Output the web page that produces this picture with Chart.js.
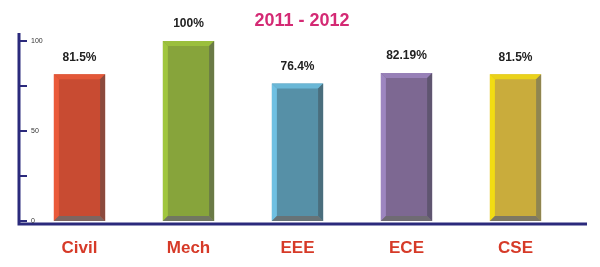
<!DOCTYPE html>
<html>
<head>
<meta charset="utf-8">
<script src="https://cdn.jsdelivr.net/npm/chart.js@4.4.1/dist/chart.umd.min.js"></script>
<style>
  html, body { margin: 0; padding: 0; background: #ffffff; }
  #myChart { display: block; }
</style>
</head>
<body>
<canvas id="myChart" width="600" height="267"></canvas>
<script>
// chart data
const title = '2011 - 2012';
const branches = ['Civil', 'Mech', 'EEE', 'ECE', 'CSE'];
const passPercent = [81.5, 100, 76.4, 82.19, 81.5];
const valueLabels = ['81.5%', '100%', '76.4%', '82.19%', '81.5%'];
const yTickValues = [0, 25, 50, 75, 100];
const yTickLabels = ['0', '', '50', '', '100'];

// bar colours: face, light edge, dark edge
const faceColors = ['#c84b32', '#87a43b', '#5690a7', '#7d6892', '#c9ac3c'];
const lightColors = ['#ea5a3a', '#a0c63e', '#6fc0e2', '#9d86c0', '#f2dc12'];
const darkColors = ['#8c4a3d', '#6a7a46', '#4a6e7d', '#5f5570', '#8f8550'];

const navy = '#2b2a7c';

const bevelPlugin = {
    id: 'bevel',
    afterDatasetsDraw(chart) {
        const ctx = chart.ctx;
        const meta = chart.getDatasetMeta(0);
        meta.data.forEach((bar, i) => {
            const w = bar.width;
            const l = bar.x - w / 2, r = bar.x + w / 2;
            const t = bar.y, b = bar.base;
            const e = 5;
            ctx.save();
            // top
            ctx.fillStyle = lightColors[i];
            ctx.globalAlpha = 0.8;
            ctx.beginPath();
            ctx.moveTo(l, t); ctx.lineTo(r, t); ctx.lineTo(r - e, t + e); ctx.lineTo(l + e, t + e);
            ctx.closePath(); ctx.fill();
            // left
            ctx.globalAlpha = 1;
            ctx.beginPath();
            ctx.moveTo(l, t); ctx.lineTo(l + e, t + e); ctx.lineTo(l + e, b - e); ctx.lineTo(l, b);
            ctx.closePath(); ctx.fill();
            // right
            ctx.fillStyle = darkColors[i];
            ctx.beginPath();
            ctx.moveTo(r, t); ctx.lineTo(r - e, t + e); ctx.lineTo(r - e, b - e); ctx.lineTo(r, b);
            ctx.closePath(); ctx.fill();
            // bottom
            ctx.globalAlpha = 0.8;
            ctx.fillStyle = '#6b6b6b';
            ctx.beginPath();
            ctx.moveTo(l, b); ctx.lineTo(l + e, b - e); ctx.lineTo(r - e, b - e); ctx.lineTo(r, b);
            ctx.closePath(); ctx.fill();
            ctx.restore();
        });
    },
    afterDraw(chart) {
        const ctx = chart.ctx;
        const xs = chart.scales.x, ys = chart.scales.y;
        const area = chart.chartArea;
        const axisX = area.left - 6;
        ctx.save();
        // title
        ctx.fillStyle = '#d42a74';
        ctx.font = 'bold 18px "Liberation Sans", Arial, sans-serif';
        ctx.textAlign = 'center';
        ctx.textBaseline = 'middle';
        ctx.fillText(title, 302, 21);

        // axes
        ctx.strokeStyle = navy;
        ctx.lineWidth = 3;
        ctx.beginPath();
        ctx.moveTo(axisX, 33);
        ctx.lineTo(axisX, area.bottom + 3);
        ctx.lineTo(587, area.bottom + 3);
        ctx.stroke();

        // y ticks (pointing inward)
        ctx.lineWidth = 2;
        ctx.fillStyle = '#333333';
        ctx.font = '7px "Liberation Sans", Arial, sans-serif';
        ctx.textAlign = 'left';
        yTickValues.forEach((v, i) => {
            const py = ys.getPixelForValue(v);
            ctx.beginPath();
            ctx.moveTo(axisX + 1, py);
            ctx.lineTo(axisX + 8, py);
            ctx.stroke();
            if (yTickLabels[i]) ctx.fillText(yTickLabels[i], axisX + 12, py);
        });

        // category labels
        ctx.fillStyle = '#d63a28';
        ctx.font = 'bold 17px "Liberation Sans", Arial, sans-serif';
        ctx.textAlign = 'center';
        branches.forEach((name, i) => {
            ctx.fillText(name, xs.getPixelForValue(i), 248);
        });

        // value labels
        ctx.fillStyle = '#222222';
        ctx.font = 'bold 12px "Liberation Sans", Arial, sans-serif';
        const meta = chart.getDatasetMeta(0);
        meta.data.forEach((bar, i) => {
            ctx.fillText(valueLabels[i], bar.x, bar.y - 17);
        });
        ctx.restore();
    }
};

const ctx = document.getElementById('myChart');
new Chart(ctx, {
    type: 'bar',
    data: {
        labels: branches,
        datasets: [{
            label: title,
            data: passPercent,
            backgroundColor: faceColors,
            borderWidth: 0,
            categoryPercentage: 1,
            barPercentage: 0.47
        }]
    },
    options: {
        responsive: false,
        animation: false,
        layout: { padding: { left: 25, right: 30, top: 41, bottom: 46 } },
        plugins: {
            legend: { display: false },
            tooltip: { enabled: false },
            title: { display: false }
        },
        scales: {
            x: { display: false, offset: true },
            y: { display: false, min: 0, max: 100 }
        }
    },
    plugins: [bevelPlugin]
});
</script>
</body>
</html>
